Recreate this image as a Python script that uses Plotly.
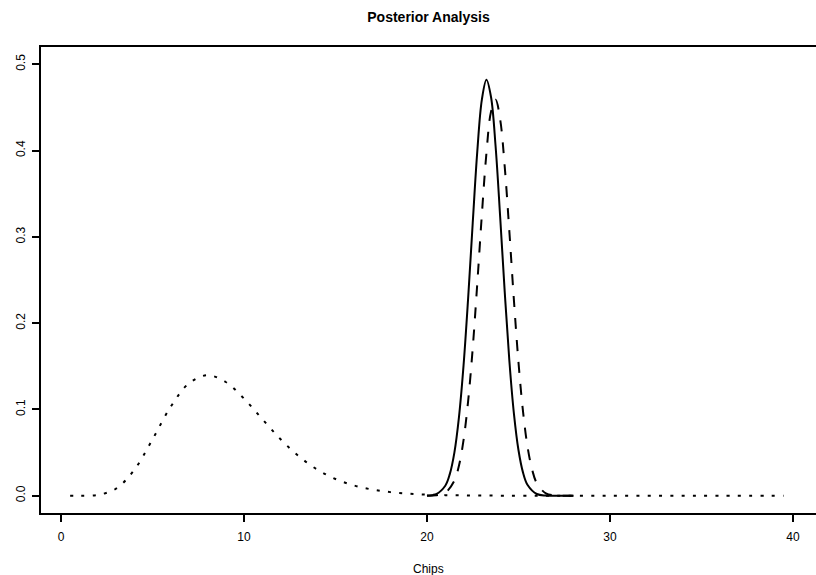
import plotly.graph_objects as go

# ---- data ----
prior_x = [0.5, 1, 2, 3, 4, 5, 6, 7, 8, 9, 10, 11, 12, 13, 14, 15, 16, 17, 18, 19,
           20, 21, 22, 23, 24, 25, 27, 30, 33, 36, 39.5]
prior_y = [0.0, 0.0, 0.0009, 0.0081, 0.0298, 0.0653, 0.1033, 0.1304, 0.1396, 0.1318,
           0.1126, 0.0888, 0.0655, 0.0457, 0.0304, 0.0194, 0.0120, 0.0072, 0.0042, 0.0024,
           0.0013, 0.0007, 0.0004, 0.0002, 0.0001, 0.0, 0.0, 0.0, 0.0, 0.0, 0.0]

post_x = [20, 20.5, 21, 21.25, 21.5, 21.75, 22, 22.25, 22.5, 22.75, 23, 23.25, 23.5,
          23.75, 24, 24.25, 24.5, 24.75, 25, 25.25, 25.5, 26, 26.5, 27, 28]
post_y = [0.0002, 0.0019, 0.0116, 0.0253, 0.0503, 0.0914, 0.1513, 0.229, 0.316, 0.399,
          0.459, 0.482, 0.462, 0.405, 0.323, 0.236, 0.157, 0.0955, 0.0530, 0.0268,
          0.0124, 0.0020, 0.0002, 0.0, 0.0]

alt_x = [20, 20.5, 21, 21.5, 21.75, 22, 22.25, 22.5, 22.75, 23, 23.25, 23.5, 23.75,
         24, 24.25, 24.5, 24.75, 25, 25.25, 25.5, 25.75, 26, 26.5, 27, 27.5, 28]
alt_y = [0.0, 0.0005, 0.0034, 0.0176, 0.0351, 0.0647, 0.1098, 0.171, 0.246, 0.326,
         0.397, 0.445, 0.459, 0.436, 0.381, 0.307, 0.227, 0.155, 0.0974, 0.0563,
         0.0300, 0.0147, 0.0027, 0.0004, 0.0, 0.0]

x_ticks = [0, 10, 20, 30, 40]
y_ticks = [0.0, 0.1, 0.2, 0.3, 0.4, 0.5]

FONT = "Liberation Sans, Arial, Helvetica, sans-serif"

fig = go.Figure()
fig.add_trace(go.Scatter(x=prior_x, y=prior_y, mode="lines",
                         line=dict(color="black", width=2, dash="3px,8.3px", shape="spline", smoothing=1.0)))
fig.add_trace(go.Scatter(x=post_x, y=post_y, mode="lines",
                         line=dict(color="black", width=2, shape="spline", smoothing=1.0)))
fig.add_trace(go.Scatter(x=alt_x, y=alt_y, mode="lines",
                         line=dict(color="black", width=2, dash="11px,11px", shape="spline", smoothing=1.0)))

fig.update_layout(
    width=816, height=575,
    margin=dict(l=41, r=0, t=47, b=62),
    paper_bgcolor="white", plot_bgcolor="white",
    showlegend=False,
    hovermode=False,
    font=dict(family=FONT, size=12, color="black"),
    title=dict(text="<b>Posterior Analysis</b>", x=(41 + 816) / 2 / 816, xanchor="center",
               y=1 - 17 / 575, yanchor="middle", yref="container",
               font=dict(family=FONT, size=14, color="black")),
    xaxis=dict(range=[-1.093, 41.26], tickvals=x_ticks, ticktext=[str(v) for v in x_ticks],
               showgrid=False, zeroline=False, showline=True, linecolor="black", linewidth=2,
               mirror=True, ticks="outside", ticklen=7, tickwidth=2, tickcolor="black",
               ticklabelstandoff=5),
    yaxis=dict(range=[-0.02, 0.52], tickvals=y_ticks, ticktext=["%.1f" % v for v in y_ticks],
               tickangle=-90, showgrid=False, zeroline=False, showline=True, linecolor="black",
               linewidth=2, mirror=False, ticks="outside", ticklen=7, tickwidth=2,
               tickcolor="black", ticklabelstandoff=2),
    annotations=[dict(text="Chips", xref="paper", yref="paper", x=0.5, y=0,
                      xanchor="center", yanchor="top", yshift=-47, showarrow=False,
                      font=dict(family=FONT, size=12, color="black"))],
)

fig.write_html("out.html",
               config={"displayModeBar": False, "staticPlot": True},
               post_script="document.body.style.margin='0';document.body.style.padding='0';"
                           "document.body.style.overflow='hidden';")
